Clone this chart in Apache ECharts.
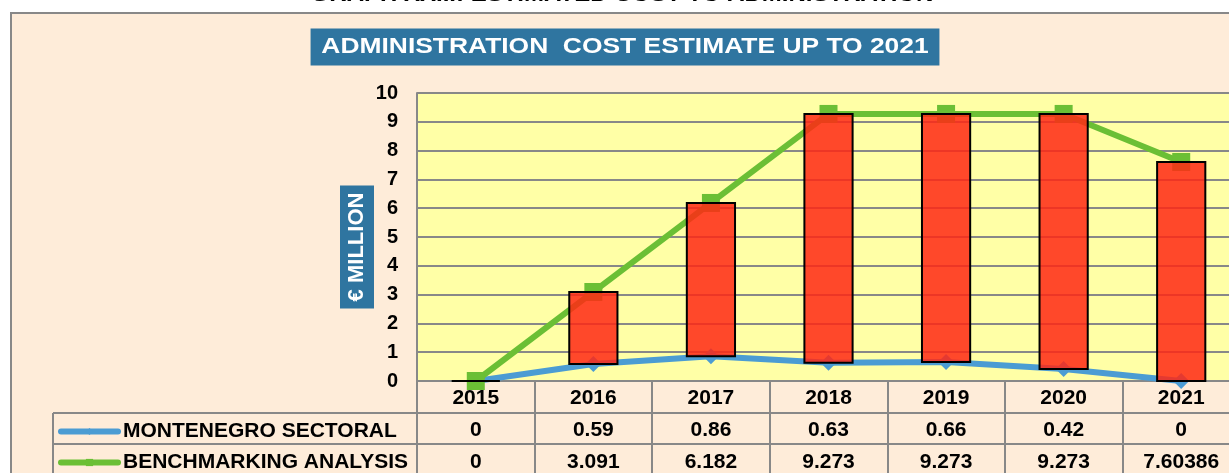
<!DOCTYPE html>
<html>
<head>
<meta charset="utf-8">
<script src="https://cdn.jsdelivr.net/npm/echarts@6/dist/echarts.min.js"></script>
<style>
  html, body { margin: 0; padding: 0; background: #fff; overflow: hidden; }
  #chart { width: 1260px; height: 473px; }
</style>
</head>
<body>
<div id="chart"></div>
<script>
  // data
  const years = ['2015', '2016', '2017', '2018', '2019', '2020', '2021'];
  const montenegro = [0, 0.59, 0.86, 0.63, 0.66, 0.42, 0];
  const benchmarking = [0, 3.091, 6.182, 9.273, 9.273, 9.273, 7.60386];
  const yMin = 0, yMax = 10, yStep = 1;

  const FONT = "'Liberation Sans', Arial, sans-serif";
  const GRAY = '#888888';
  const BLUE = '#4B9CD3';
  const GREEN = '#6BBF35';

  let myChart = echarts.init(document.getElementById('chart'));

  // one legend per table row
  function rowLegend(name, top) {
    return {
      data: [name],
      left: 58,
      top: top,
      padding: 0,
      itemWidth: 57,
      itemHeight: 9,
      lineStyle: { width: 6, cap: 'round' },
      textStyle: { fontSize: 21, fontWeight: 'bold', color: '#000', fontFamily: FONT }
    };
  }

  let option = {
    backgroundColor: '#ffffff',
    animation: false,
    textStyle: { fontFamily: FONT },
    grid: { left: 417, top: 93, width: 823, height: 288 },
    legend: [
      rowLegend('MONTENEGRO SECTORAL', 421),
      rowLegend('BENCHMARKING ANALYSIS', 452)
    ],
    xAxis: {
      type: 'category',
      data: years,
      boundaryGap: true,
      axisLine: { lineStyle: { color: GRAY, width: 2 } },
      axisTick: { show: true, interval: 0, length: 100, lineStyle: { color: GRAY, width: 2 } },
      axisLabel: {
        margin: 1,
        interval: 0,
        formatter: function (val, idx) {
          return '{y|' + val + '}\n{v|' + montenegro[idx] + '}\n{v|' + benchmarking[idx] + '}';
        },
        rich: {
          y: { fontSize: 21, fontWeight: 'bold', color: '#000', lineHeight: 32, fontFamily: FONT },
          v: { fontSize: 21, fontWeight: 'bold', color: '#000', lineHeight: 32, fontFamily: FONT }
        }
      }
    },
    yAxis: {
      type: 'value',
      min: yMin,
      max: yMax,
      interval: yStep,
      axisLine: { show: true, lineStyle: { color: GRAY, width: 2 } },
      axisTick: { show: false },
      axisLabel: { margin: 19, fontSize: 20, fontWeight: 'bold', color: '#000', fontFamily: FONT },
      splitLine: { lineStyle: { color: GRAY, width: 2 } },
      splitArea: { show: true, areaStyle: { color: ['#FFFFA6'] } }
    },
    series: [{
      name: 'MONTENEGRO SECTORAL',
      type: 'line',
      data: montenegro,
      z: 2,
      symbol: 'diamond',
      symbolSize: 16,
      lineStyle: { color: BLUE, width: 6 },
      itemStyle: { color: BLUE }
    }, {
      name: 'BENCHMARKING ANALYSIS',
      type: 'line',
      data: benchmarking,
      z: 2,
      symbol: 'rect',
      symbolSize: 18,
      lineStyle: { color: GREEN, width: 6 },
      itemStyle: { color: GREEN }
    }, {
      // red floating bars between the two series
      name: 'gap',
      type: 'custom',
      z: 4,
      data: years.map(function (y, i) { return [i, montenegro[i], benchmarking[i]]; }),
      renderItem: function (params, api) {
        let lo = api.coord([api.value(0), api.value(1)]);
        let hi = api.coord([api.value(0), api.value(2)]);
        let w = api.size([1, 0])[0] * 0.41;
        return {
          type: 'rect',
          shape: { x: lo[0] - w / 2, y: hi[1], width: w, height: lo[1] - hi[1] },
          style: { fill: 'rgba(255,40,20,0.85)', stroke: '#000', lineWidth: 2 }
        };
      }
    }],
    graphic: [{
      // outer frame
      type: 'rect', z: -10, silent: true,
      shape: { x: 11, y: 13, width: 1300, height: 500 },
      style: { fill: '#FEECD9', stroke: GRAY, lineWidth: 2 }
    }, {
      type: 'text', z: 10, x: 622, y: -5, scaleX: 1.2,
      style: {
        text: 'GRAPH XXIII: ESTIMATED COST TO ADMINISTRATION', font: 'bold 20px ' + FONT, fill: '#000',
        align: 'center', verticalAlign: 'middle'
      }
    }, {
      type: 'text', z: 10, x: 625, y: 47, scaleX: 1.2,
      style: {
        text: 'ADMINISTRATION  COST ESTIMATE UP TO 2021', font: 'bold 22px ' + FONT, fill: '#fff',
        align: 'center', verticalAlign: 'middle',
        backgroundColor: '#2F75A0', padding: [8, 9, 7, 9]
      }
    }, {
      type: 'text', z: 10, x: 357, y: 247, rotation: Math.PI / 2,
      style: {
        text: '€ MILLION', font: 'bold 22px ' + FONT, fill: '#fff',
        align: 'center', verticalAlign: 'middle',
        backgroundColor: '#2F75A0', padding: [6, 7, 6, 7]
      }
    }, {
      type: 'line', z: 1, silent: true,
      shape: { x1: 53, y1: 413, x2: 1300, y2: 413 },
      style: { stroke: GRAY, lineWidth: 2 }
    }, {
      type: 'line', z: 1, silent: true,
      shape: { x1: 53, y1: 444, x2: 1300, y2: 444 },
      style: { stroke: GRAY, lineWidth: 2 }
    }, {
      type: 'line', z: 1, silent: true,
      shape: { x1: 53, y1: 413, x2: 53, y2: 480 },
      style: { stroke: GRAY, lineWidth: 2 }
    }, {
      type: 'line', z: 1, silent: true,
      shape: { x1: 417, y1: 381, x2: 417, y2: 480 },
      style: { stroke: GRAY, lineWidth: 2 }
    }]
  };

  myChart.setOption(option);
</script>
</body>
</html>
